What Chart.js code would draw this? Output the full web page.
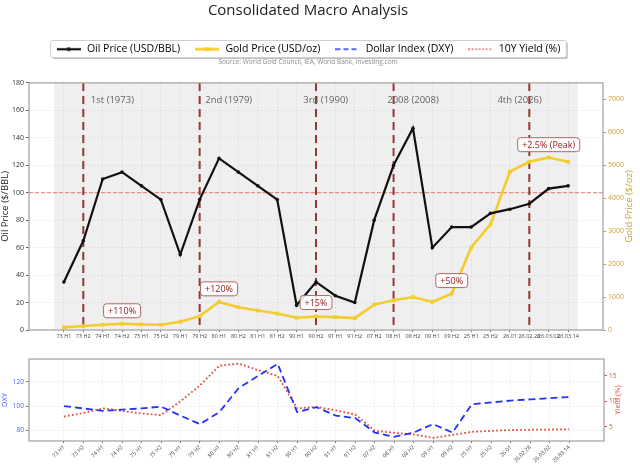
<!DOCTYPE html>
<html>
<head>
<meta charset="utf-8">
<script src="https://cdn.jsdelivr.net/npm/chart.js@4.4.1/dist/chart.umd.min.js"></script>
<style>
  html, body { margin: 0; padding: 0; background: #fff; }
  #wrap { position: relative; width: 640px; height: 472px; }
  .pane { position: absolute; left: 0; width: 640px; }
</style>
</head>
<body>
<div id="wrap">
  <div class="pane" style="top:0;height:345px"><canvas id="mainChart"></canvas></div>
  <div class="pane" style="top:345px;height:127px"><canvas id="rateChart"></canvas></div>
</div>
<script>
"use strict";

// half-year buckets around each oil shock
const categories = ['73 H1', '73 H2', '74 H1', '74 H2', '75 H1', '75 H2', '79 H1', '79 H2',
    '80 H1', '80 H2', '81 H1', '81 H2', '90 H1', '90 H2', '91 H1', '91 H2', '07 H2', '08 H1',
    '08 H2', '09 H1', '09 H2', '25 H1', '25 H2', '26.01', '26.02.28', '26.03.02', '26.03.14'];
const oilPrice = [35, 65, 110, 115, 105, 95, 55, 95, 125, 115, 105, 95, 18, 35, 25, 20, 80, 120,
    147, 60, 75, 75, 85, 88, 92, 103, 105];
const goldPrice = [80, 120, 160, 190, 170, 160, 250, 420, 850, 690, 590, 500, 370, 410, 390, 360,
    770, 900, 1000, 850, 1100, 2500, 3200, 4800, 5100, 5230, 5100];
const dxy = [100, 98, 96, 97, 98, 99.5, 92, 85, 95, 115, 125, 135, 95, 99, 92, 90, 78, 74.5, 78,
    85, 78, 101.5, 103, 104.5, 105.5, 106.5, 107.5];
const yield10y = [7.0, 7.7, 8.6, 8.1, 7.6, 7.3, 10.0, 13.1, 17.0, 17.4, 16.1, 15.0, 8.6, 8.9, 8.2,
    7.4, 4.2, 3.8, 3.5, 2.8, 3.4, 4.0, 4.2, 4.35, 4.4, 4.45, 4.5];

// tick values for each value axis
const oilTicks = [0, 20, 40, 60, 80, 100, 120, 140, 160, 180];
const goldTicks = [0, 1000, 2000, 3000, 4000, 5000, 6000, 7000];
const dxyTicks = [80, 100, 120];
const yieldTicks = [5, 10, 15];

// crisis markers (index into categories) and their captions
const crisisIdx = [1, 7, 13, 17, 24];
const crisisNames = ['1st (1973)', '2nd (1979)', '3rd (1990)', '2008 (2008)', '4th (2026)'];
const crisisNameX = [2.5, 8.5, 13.5, 18, 23.5];

// gold move call-outs
const goldNotes = ['+110%', '+120%', '+15%', '+50%', '+2.5% (Peak)'];
const goldNoteIdx = [3, 8, 13, 20, 25];
const goldNoteY = [14, 30, 20, 36, 135];

const legendNames = ['Oil Price (USD/BBL)', 'Gold Price (USD/oz)', 'Dollar Index (DXY)', '10Y Yield (%)'];

const FONT = '"Open Sans", "DejaVu Sans", sans-serif';
const OIL = '#111111';
const GOLD = '#f4cc2c';
const GOLD_AXIS = '#c9a23a';
const BLUE = '#2233ff';
const RED = '#e0503f';
const CRISIS = 'rgba(140, 35, 30, 0.9)';

Chart.defaults.font.family = FONT;
Chart.defaults.color = '#333';

const toPoints = (arr) => arr.map((v, i) => ({ x: i, y: v }));
const fixedTicks = (values) => (s) => { s.ticks = values.map((v) => ({ value: v })); };
const plainLabel = (v) => String(v);

// little legend handles that look like the plotted lines
function handle(color, width, dash, marker) {
    const c = document.createElement('canvas');
    c.width = 24;
    c.height = 8;
    const g = c.getContext('2d');
    g.strokeStyle = color;
    g.lineWidth = width;
    g.setLineDash(dash);
    g.beginPath();
    g.moveTo(0, 4);
    g.lineTo(24, 4);
    g.stroke();
    g.fillStyle = color;
    if (marker === 'circle') {
        g.beginPath();
        g.arc(12, 4, 2, 0, Math.PI * 2);
        g.fill();
    } else if (marker === 'rect') {
        g.fillRect(10, 2, 4, 4);
    }
    return c;
}
const handles = [
    handle(OIL, 2.2, [], 'circle'),
    handle(GOLD, 2.8, [], 'rect'),
    handle(BLUE, 1.6, [5, 3], null),
    handle(RED, 1.6, [1.5, 2], null),
];

function categoryAxis(tickOpts) {
    return {
        type: 'linear',
        min: -1.8,
        max: 27.8,
        afterBuildTicks: fixedTicks(categories.map((c, i) => i)),
        ticks: Object.assign({
            autoSkip: false,
            color: '#444',
            padding: 1,
            callback: (v) => categories[v],
        }, tickOpts),
        grid: { color: 'rgba(0,0,0,0.06)', tickLength: 2, tickColor: '#777' },
        border: { display: false, dash: [2, 2] },
    };
}

function drawFrame(chart, color) {
    const { ctx, chartArea: a } = chart;
    ctx.save();
    ctx.strokeStyle = color;
    ctx.lineWidth = 1.3;
    ctx.strokeRect(a.left, a.top, a.right - a.left, a.bottom - a.top);
    ctx.restore();
}

// matplotlib style: right-hand axis titles read bottom to top
function drawRightTitle(chart, text, x, color, size) {
    const { ctx, chartArea: a } = chart;
    ctx.save();
    ctx.translate(x, (a.top + a.bottom) / 2);
    ctx.rotate(-Math.PI / 2);
    ctx.font = size + 'px ' + FONT;
    ctx.fillStyle = color;
    ctx.textAlign = 'center';
    ctx.textBaseline = 'middle';
    ctx.fillText(text, 0, 0);
    ctx.restore();
}

const mainDecor = {
    id: 'mainDecor',
    beforeDraw(chart) {
        const { ctx, chartArea: a, scales } = chart;
        ctx.save();
        // shaded history band
        const x0 = scales.x.getPixelForValue(-0.5);
        const x1 = scales.x.getPixelForValue(categories.length - 0.5);
        ctx.fillStyle = '#efefef';
        ctx.fillRect(x0, a.top, x1 - x0, a.bottom - a.top);
        // legend frame with a soft shadow
        const hb = chart.legend.legendHitBoxes;
        if (hb && hb.length) {
            const last = hb[hb.length - 1];
            const left = hb[0].left - 5;
            const right = last.left + last.width + 6;
            const top = hb[0].top - 3.5;
            const h = 17;
            ctx.fillStyle = 'rgba(0,0,0,0.25)';
            ctx.beginPath();
            ctx.roundRect(left + 1.5, top + 1.5, right - left, h, 2);
            ctx.fill();
            ctx.fillStyle = '#fff';
            ctx.strokeStyle = '#cfcfcf';
            ctx.lineWidth = 1;
            ctx.beginPath();
            ctx.roundRect(left, top, right - left, h, 2);
            ctx.fill();
            ctx.stroke();
        }
        ctx.restore();
    },
    beforeDatasetsDraw(chart) {
        const { ctx, chartArea: a, scales } = chart;
        ctx.save();
        // $100 oil reference
        const y100 = scales.y.getPixelForValue(100);
        ctx.strokeStyle = 'rgba(225, 110, 95, 0.9)';
        ctx.lineWidth = 1;
        ctx.setLineDash([4, 2]);
        ctx.beginPath();
        ctx.moveTo(a.left, y100);
        ctx.lineTo(a.right, y100);
        ctx.stroke();
        // crisis markers
        ctx.strokeStyle = CRISIS;
        ctx.lineWidth = 2;
        ctx.setLineDash([8, 5]);
        crisisIdx.forEach((idx) => {
            const x = scales.x.getPixelForValue(idx);
            ctx.beginPath();
            ctx.moveTo(x, a.top);
            ctx.lineTo(x, a.bottom);
            ctx.stroke();
        });
        ctx.setLineDash([]);
        ctx.font = '9.5px ' + FONT;
        ctx.fillStyle = '#666';
        ctx.textAlign = 'center';
        ctx.textBaseline = 'middle';
        crisisNames.forEach((name, i) => {
            ctx.fillText(name, scales.x.getPixelForValue(crisisNameX[i]), scales.y.getPixelForValue(167));
        });
        ctx.restore();
    },
    afterDatasetsDraw(chart) {
        const { ctx, scales } = chart;
        ctx.save();
        ctx.font = '9px ' + FONT;
        ctx.textAlign = 'center';
        ctx.textBaseline = 'middle';
        goldNotes.forEach((t, i) => {
            const x = scales.x.getPixelForValue(goldNoteIdx[i]);
            const y = scales.y.getPixelForValue(goldNoteY[i]);
            const w = ctx.measureText(t).width + 9;
            const h = 14;
            ctx.beginPath();
            ctx.roundRect(x - w / 2, y - h / 2, w, h, 3);
            ctx.fillStyle = 'rgba(255,255,255,0.85)';
            ctx.fill();
            ctx.strokeStyle = '#b06a64';
            ctx.lineWidth = 1;
            ctx.stroke();
            ctx.fillStyle = '#8b1a1a';
            ctx.fillText(t, x, y + 0.5);
        });
        ctx.restore();
    },
    afterDraw(chart) {
        drawFrame(chart, '#a8a8a8');
        drawRightTitle(chart, 'Gold Price ($/oz)', 629, GOLD_AXIS, 9.5);
    },
};

new Chart(document.getElementById('mainChart'), {
    type: 'line',
    data: {
        datasets: [{
            label: legendNames[0],
            data: toPoints(oilPrice),
            yAxisID: 'y',
            borderColor: OIL,
            backgroundColor: OIL,
            borderWidth: 2.2,
            pointRadius: 1.8,
            pointBorderWidth: 0,
            pointHoverRadius: 1.8,
            order: 1,
        }, {
            label: legendNames[1],
            data: toPoints(goldPrice),
            yAxisID: 'y2',
            borderColor: GOLD,
            backgroundColor: GOLD,
            borderWidth: 2.6,
            pointStyle: 'rect',
            pointRadius: 2.6,
            pointBorderWidth: 0,
            pointHoverRadius: 2.6,
            order: 2,
        }],
    },
    options: {
        responsive: true,
        maintainAspectRatio: false,
        animation: false,
        // negative left padding shifts the centred title/legend left, like the original figure;
        // the left axis is widened by the same amount so the plot area stays put
        layout: { padding: { left: -24 } },
        plugins: {
            tooltip: { enabled: false },
            title: {
                display: true,
                text: 'Consolidated Macro Analysis',
                color: '#222',
                font: { size: 15, weight: 'normal' },
                padding: { top: 1.5, bottom: 10.5 },
            },
            subtitle: {
                display: true,
                text: 'Source: World Gold Council, IEA, World Bank, Investing.com',
                color: '#8a8a8a',
                font: { size: 6.5 },
                weight: 900,
                padding: { top: -6.4, bottom: 17 },
            },
            legend: {
                display: true,
                labels: {
                    color: '#222',
                    font: { size: 10.5 },
                    usePointStyle: true,
                    pointStyleWidth: 26,
                    boxHeight: 10,
                    padding: 14,
                    generateLabels: () => legendNames.map((t, i) => ({
                        text: t,
                        pointStyle: handles[i],
                        fillStyle: 'transparent',
                        strokeStyle: 'transparent',
                        lineWidth: 0,
                        hidden: false,
                        datasetIndex: i,
                    })),
                },
                onClick: () => {},
            },
        },
        scales: {
            x: Object.assign(categoryAxis({ font: { size: 5.5 }, maxRotation: 0, minRotation: 0 }), {
                afterFit: (s) => { s.height = 15; },
            }),
            y: {
                min: 0,
                max: 180,
                afterBuildTicks: fixedTicks(oilTicks),
                ticks: { font: { size: 7 }, color: '#333', padding: 2, callback: plainLabel },
                grid: { color: 'rgba(0,0,0,0.07)', tickLength: 3, tickColor: '#666' },
                border: { display: false, dash: [2, 2] },
                title: { display: true, text: 'Oil Price ($/BBL)', color: '#222', font: { size: 9.5 }, padding: { top: 24, bottom: 1 } },
                afterFit: (s) => { s.width = 53; },
            },
            y2: {
                position: 'right',
                min: 0,
                max: 7490,
                afterBuildTicks: fixedTicks(goldTicks),
                ticks: { font: { size: 7 }, color: GOLD_AXIS, padding: 2, callback: plainLabel },
                grid: { drawOnChartArea: false, tickLength: 3, tickColor: GOLD_AXIS },
                border: { display: false },
                afterFit: (s) => { s.width = 37; },
            },
        },
    },
    plugins: [mainDecor],
});

const rateDecor = {
    id: 'rateDecor',
    afterDraw(chart) {
        drawFrame(chart, '#a8a8a8');
        drawRightTitle(chart, 'Yield (%)', 618, RED, 7.5);
    },
};

new Chart(document.getElementById('rateChart'), {
    type: 'line',
    data: {
        datasets: [{
            label: legendNames[2],
            data: toPoints(dxy),
            yAxisID: 'y',
            borderColor: BLUE,
            borderWidth: 1.8,
            borderDash: [7, 4],
            pointRadius: 0,
        }, {
            label: legendNames[3],
            data: toPoints(yield10y),
            yAxisID: 'y2',
            borderColor: RED,
            borderWidth: 1.8,
            borderDash: [1.8, 2.2],
            pointRadius: 0,
        }],
    },
    options: {
        responsive: true,
        maintainAspectRatio: false,
        animation: false,
        layout: { padding: { top: 14 } },
        plugins: { legend: { display: false }, tooltip: { enabled: false } },
        scales: {
            x: Object.assign(categoryAxis({ font: { size: 5.5 }, maxRotation: 45, minRotation: 45 }), {
                afterFit: (s) => { s.height = 31; },
            }),
            y: {
                min: 71,
                max: 139,
                afterBuildTicks: fixedTicks(dxyTicks),
                ticks: { font: { size: 6.5 }, color: '#5060ff', padding: 2, callback: plainLabel },
                grid: { color: 'rgba(0,0,0,0.07)', tickLength: 3, tickColor: '#777' },
                border: { display: false, dash: [2, 2] },
                title: { display: true, text: 'DXY', color: '#5060ff', font: { size: 7.5 }, padding: { top: 0, bottom: 1 } },
                afterFit: (s) => { s.width = 29; },
            },
            y2: {
                position: 'right',
                min: 2.2,
                max: 18.3,
                afterBuildTicks: fixedTicks(yieldTicks),
                ticks: { font: { size: 6.5 }, color: RED, padding: 2, callback: plainLabel },
                grid: { drawOnChartArea: false, tickLength: 3, tickColor: RED },
                border: { display: false },
                afterFit: (s) => { s.width = 36; },
            },
        },
    },
    plugins: [rateDecor],
});
</script>
</body>
</html>
